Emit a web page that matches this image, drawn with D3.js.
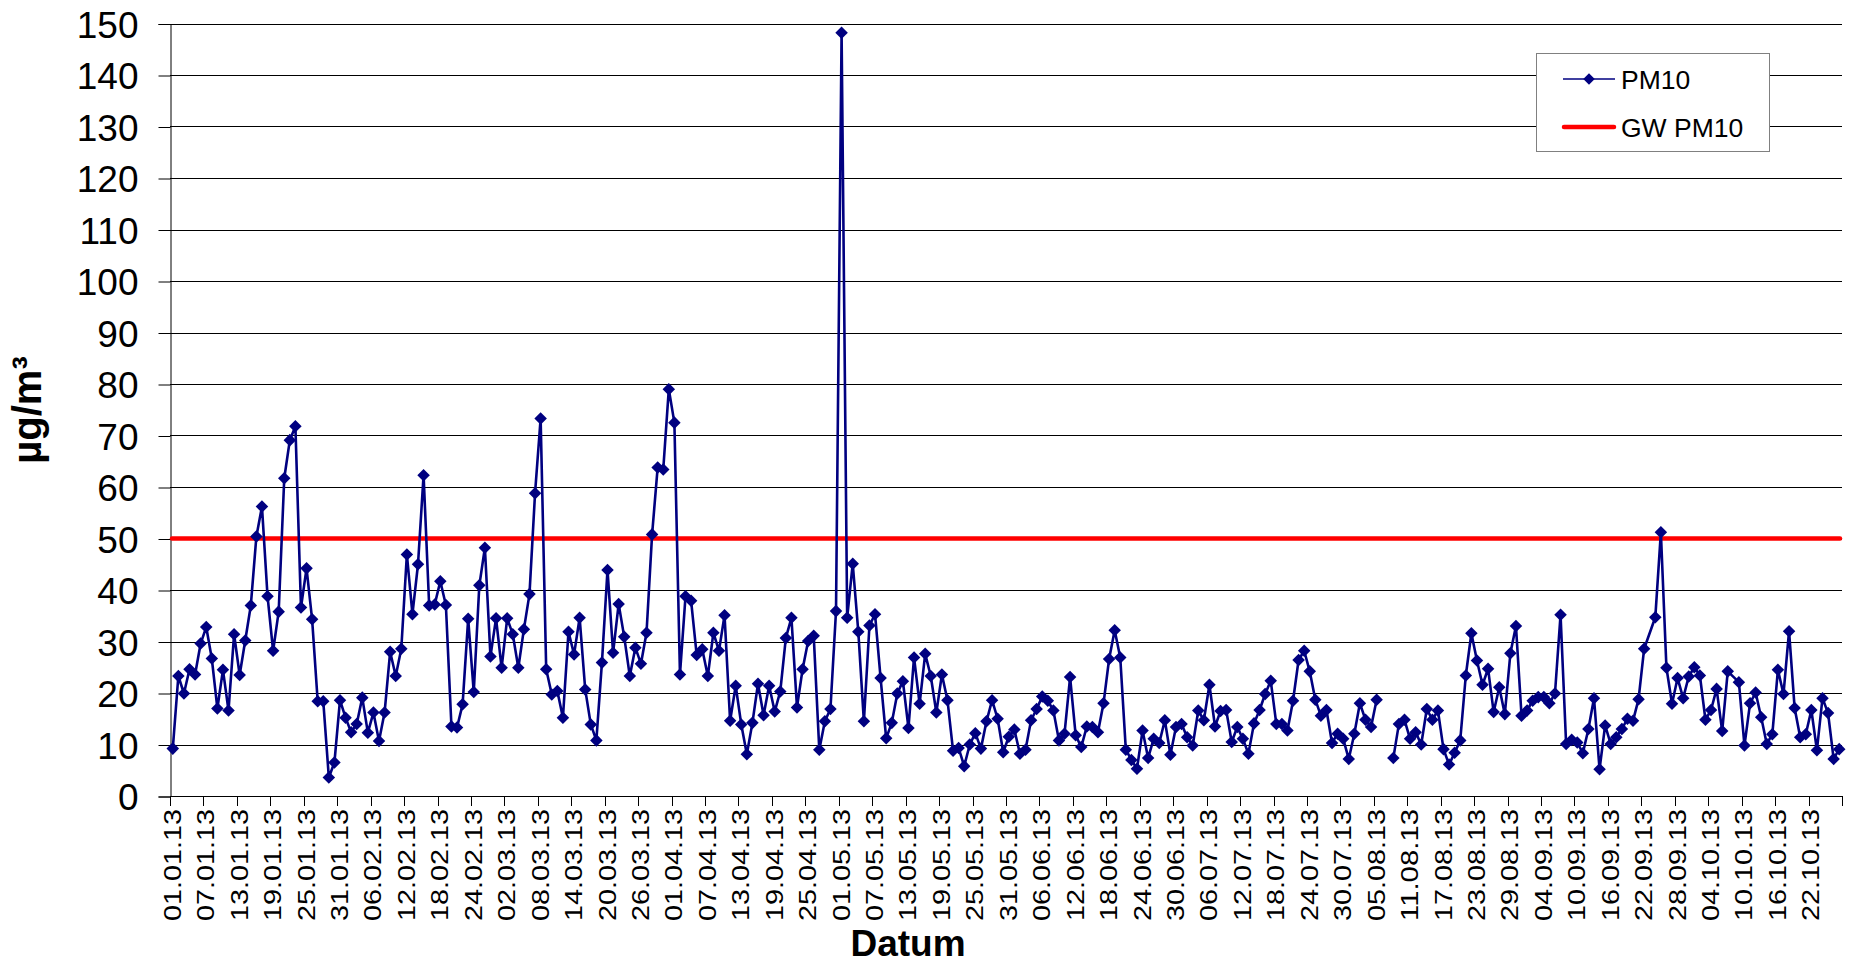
<!DOCTYPE html>
<html>
<head>
<meta charset="utf-8">
<script src="https://cdn.jsdelivr.net/npm/d3@7"></script>
<style>
  html, body { margin: 0; padding: 0; background: #fff; }
  svg { display: block; font-family: "Liberation Sans", Arial, sans-serif; }
</style>
</head>
<body>
<svg id="chart" width="1850" height="966"></svg>
<script>
// Daily PM10 means, 01.01.2013 – 27.10.2013 (µg/m³).
// null = no measurement (line broken), "NA" = not available (line bridged, no marker).
const startDate = "2013-01-01";
const dayCount = 300;
const pm10 = [
  9.2, 23.3, 19.9, 24.6, 23.6, 29.6, 32.8, 26.7, 17.0, 24.5,
  16.6, 31.4, 23.5, 30.2, 37.0, 50.4, 56.2, 38.8, 28.2, 35.8,
  61.7, 69.1, 71.8, 36.6, 44.2, 34.3, 18.4, 18.4, 3.6, 6.5,
  18.6, 15.2, 12.4, 14.0, 19.1, 12.3, 16.2, 10.7, 16.2, 28.0,
  23.3, 28.6, 46.9, 35.3, 45.0, 62.3, 37.0, 37.2, 41.7, 37.1,
  13.5, 13.3, 17.8, 34.4, 20.2, 40.9, 48.2, 27.1, 34.5, 24.9,
  34.5, 31.4, 24.9, 32.4, 39.2, 58.8, 73.3, 24.6, 19.7, 20.4,
  15.2, 31.9, 27.5, 34.6, 20.7, 13.9, 10.8, 25.9, 43.9, 27.8,
  37.3, 30.9, 23.3, 28.8, 25.7, 31.7, 50.8, 63.8, 63.4, 79.0,
  72.5, 23.6, 38.8, 37.9, 27.4, 28.5, 23.3, 31.7, 28.2, 35.1,
  14.6, 21.4, 13.9, 8.1, 14.2, 21.8, 15.7, 21.4, 16.4, 20.3,
  30.7, 34.6, 17.2, 24.6, 30.1, 31.1, 9.0, 14.5, 16.9, 35.9,
  148.2, 34.6, 45.1, 31.9, 14.5, 33.1, 35.3, 22.9, 11.2, 14.2,
  19.9, 22.3, 13.2, 26.9, 17.9, 27.6, 23.3, 16.2, 23.6, 18.6,
  8.8, 9.3, 5.8, 10.0, 12.2, 9.2, 14.5, 18.6, 15.0, 8.5,
  11.5, 12.9, 8.2, 9.0, 14.7, 16.9, 19.3, 18.5, 16.6, 10.8,
  12.1, 23.1, 11.8, 9.5, 13.5, 13.4, 12.4, 18.0, 26.6, 32.2,
  26.9, 9.0, 7.0, 5.3, 12.7, 7.4, 11.1, 10.3, 14.7, 8.0,
  13.4, 14.0, 11.4, 9.8, 16.6, 14.7, 21.6, 13.5, 16.5, 16.7,
  10.5, 13.4, 11.1, 8.2, 14.1, 16.7, 19.8, 22.4, 14.0, 14.0,
  12.7, 18.5, 26.4, 28.2, 24.2, 18.7, 15.6, 16.7, 10.3, 12.1,
  11.1, 7.2, 12.1, 18.0, 14.8, 13.4, 18.7, null, null, 7.4,
  14.0, 14.8, 11.1, 12.4, 10.0, 16.9, 14.8, 16.6, 9.1, 6.1,
  8.4, 10.8, 23.4, 31.6, 26.3, 21.6, 24.7, 16.3, 21.1, 15.9,
  27.7, 33.0, 15.6, 16.6, 18.5, 19.2, 19.2, 18.0, 19.9, 35.2,
  10.1, 10.9, 10.4, 8.3, 13.0, 19.0, 5.2, 13.7, 10.1, 11.4,
  13.0, 15.0, 14.6, 18.8, 28.6, "NA", 34.7, 51.2, 24.9, 17.9,
  22.9, 19.0, 23.2, 25.0, 23.4, 14.8, 16.7, 20.8, 12.6, 24.2,
  "NA", 22.1, 9.8, 18.0, 20.1, 15.3, 10.1, 12.0, 24.5, 19.8,
  32.0, 17.1, 11.4, 12.0, 16.7, 8.9, 19.0, 16.1, 7.2, 9.1
];
const limitValue = 50;           // daily limit value (Grenzwert) PM10
const yTicks = [0, 10, 20, 30, 40, 50, 60, 70, 80, 90, 100, 110, 120, 130, 140, 150];
const tickEvery = 6;             // one label every 6 days
const seriesNames = ["PM10", "GW PM10"];

const fmt = d3.timeFormat("%d.%m.%y");
const parse = d3.timeParse("%Y-%m-%d");
const day0 = parse(startDate);
const categories = d3.timeDay.range(day0, d3.timeDay.offset(day0, dayCount)).map(fmt);
const tickLabels = categories.filter((c, i) => i % tickEvery === 0);

const data = categories.map((c, i) => ({ cat: c, v: pm10[i] }));

const svg = d3.select("#chart");
svg.append("rect").attr("width", 1850).attr("height", 966).attr("fill", "#fff");

const plot = { left: 170, right: 1842, top: 23.5, bottom: 796 };

const x = d3.scaleBand().domain(categories).range([plot.left, plot.right]).paddingInner(0).paddingOuter(0);
const xc = c => x(c) + x.bandwidth() / 2;
const y = d3.scaleLinear().domain([0, 150]).range([plot.bottom, plot.top]);

// horizontal gridlines
svg.append("g")
  .selectAll("line")
  .data(yTicks.filter(t => t > 0))
  .join("line")
  .attr("x1", plot.left).attr("x2", plot.right)
  .attr("y1", d => Math.round(y(d)) + 0.5).attr("y2", d => Math.round(y(d)) + 0.5)
  .attr("stroke", "#000").attr("stroke-width", 1);

// y axis
const yAxis = d3.axisLeft(y).tickValues(yTicks).tickSize(12).tickPadding(20).tickFormat(d3.format("d"));
const gy = svg.append("g").attr("transform", `translate(${plot.left + 0.5},0.5)`).call(yAxis);
gy.select(".domain").attr("stroke", "#000");
gy.selectAll(".tick line").attr("stroke", "#000");
gy.selectAll(".tick text")
  .attr("font-family", "Liberation Sans, Arial, sans-serif")
  .attr("font-size", 37).attr("fill", "#000").attr("dy", "0.36em");

// x axis: ticks on the category boundaries, labels on the category centres
const boundaries = d3.range(0, dayCount + 1, tickEvery).map(i => i < dayCount ? x(categories[i]) : plot.right);
const gx = svg.append("g");
gx.append("line")
  .attr("x1", plot.left).attr("x2", plot.right)
  .attr("y1", plot.bottom + 0.5).attr("y2", plot.bottom + 0.5)
  .attr("stroke", "#000");
gx.selectAll("line.tk")
  .data(boundaries)
  .join("line").attr("class", "tk")
  .attr("x1", d => Math.round(d) + 0.5).attr("x2", d => Math.round(d) + 0.5)
  .attr("y1", plot.bottom).attr("y2", plot.bottom + 10)
  .attr("stroke", "#000");
gx.selectAll("text")
  .data(tickLabels)
  .join("text")
  .attr("transform", d => `translate(${xc(d) + 8},${plot.bottom + 13}) rotate(-90)`)
  .attr("text-anchor", "end")
  .attr("font-size", 24)
  .attr("textLength", 112)
  .attr("lengthAdjust", "spacingAndGlyphs")
  .attr("fill", "#000")
  .text(d => d);

// limit line
svg.append("line")
  .attr("x1", plot.left + 2).attr("x2", plot.right - 2)
  .attr("y1", y(limitValue)).attr("y2", y(limitValue))
  .attr("stroke", "#ff0000").attr("stroke-width", 4.5).attr("stroke-linecap", "round");

// PM10 series
const present = data.filter(d => d.v !== "NA");
const line = d3.line()
  .defined(d => d.v !== null)
  .x(d => xc(d.cat)).y(d => y(d.v));
svg.append("path")
  .datum(present)
  .attr("d", line)
  .attr("fill", "none").attr("stroke", "#000080").attr("stroke-width", 2.6)
  .attr("stroke-linejoin", "round");

const diamond = d3.symbol().type(d3.symbolDiamond2).size(100);
svg.append("g")
  .selectAll("path")
  .data(present.filter(d => d.v !== null))
  .join("path")
  .attr("d", diamond)
  .attr("transform", d => `translate(${xc(d.cat)},${y(d.v)})`)
  .attr("fill", "#000080");

// axis titles
svg.append("text")
  .attr("x", 908).attr("y", 956)
  .attr("text-anchor", "middle")
  .attr("font-size", 37).attr("font-weight", "bold")
  .text("Datum");
svg.append("text")
  .attr("transform", "translate(41,410) rotate(-90)")
  .attr("text-anchor", "middle")
  .attr("font-size", 40).attr("font-weight", "bold")
  .text("µg/m³");

// legend
const lg = svg.append("g");
lg.append("rect")
  .attr("x", 1536.5).attr("y", 53.5).attr("width", 233).attr("height", 98)
  .attr("fill", "#fff").attr("stroke", "#808080").attr("stroke-width", 1);
lg.append("line").attr("x1", 1563).attr("x2", 1615).attr("y1", 79).attr("y2", 79)
  .attr("stroke", "#000080").attr("stroke-width", 1.6);
lg.append("path").attr("d", d3.symbol().type(d3.symbolDiamond2).size(85)).attr("transform", "translate(1589,79)").attr("fill", "#000080");
lg.append("line").attr("x1", 1564).attr("x2", 1614).attr("y1", 127).attr("y2", 127)
  .attr("stroke", "#ff0000").attr("stroke-width", 4.5).attr("stroke-linecap", "round");
lg.selectAll("text.lt")
  .data(seriesNames)
  .join("text").attr("class", "lt")
  .attr("x", 1621).attr("y", (d, i) => 88.5 + i * 48)
  .attr("font-size", 26.5).attr("fill", "#000")
  .text(d => d);
</script>
</body>
</html>
